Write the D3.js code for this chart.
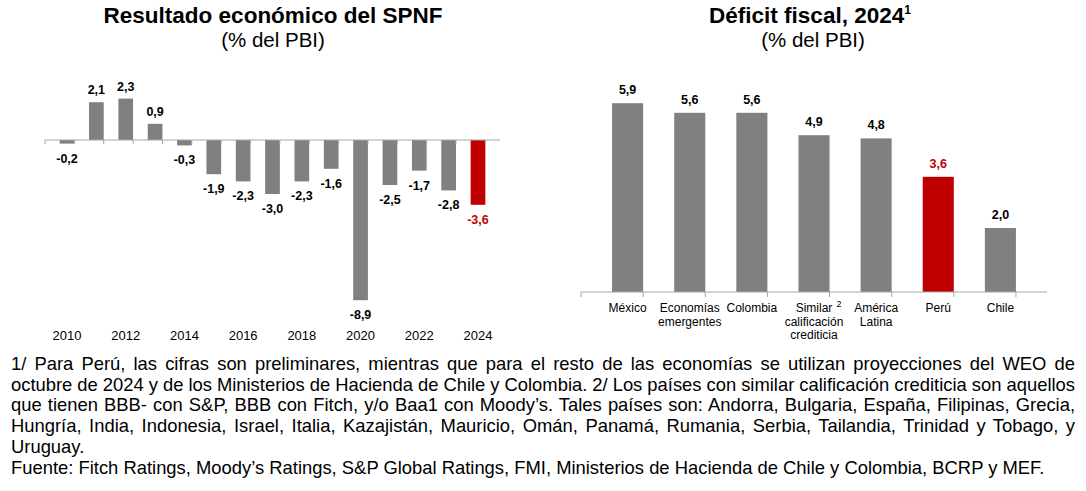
<!DOCTYPE html>
<head>
  <script src="https://d3js.org/d3.v7.min.js"></script>
  <meta charset='utf-8'>
  <title>Resultado económico y déficit fiscal</title>
  <style>
    body {
      margin: 0;
      background: white;
    }
    svg text {
      font-family: "Liberation Sans", Arial, Helvetica, sans-serif;
    }
  </style>
</head>

<body>
  <div id="chart"></div>

  <script>

// data
var years = [2010, 2011, 2012, 2013, 2014, 2015, 2016, 2017, 2018, 2019, 2020, 2021, 2022, 2023, 2024];
var spnf = [-0.2, 2.1, 2.3, 0.9, -0.3, -1.9, -2.3, -3.0, -2.3, -1.6, -8.9, -2.5, -1.7, -2.8, -3.6];

var countries = ["México", "Economías emergentes", "Colombia", "Similar calificación crediticia", "América Latina", "Perú", "Chile"];
var countryLines = [["México"], ["Economías", "emergentes"], ["Colombia"], ["Similar", "calificación", "crediticia"], ["América", "Latina"], ["Perú"], ["Chile"]];
var deficit = [5.9, 5.6, 5.6, 4.9, 4.8, 3.6, 2.0];

var notes = [
  "1/ Para Perú, las cifras son preliminares, mientras que para el resto de las economías se utilizan proyecciones del WEO de",
  "octubre de 2024 y de los Ministerios de Hacienda de Chile y Colombia. 2/ Los países con similar calificación crediticia son aquellos",
  "que tienen BBB- con S&P, BBB con Fitch, y/o Baa1 con Moody’s. Tales países son: Andorra, Bulgaria, España, Filipinas, Grecia,",
  "Hungría, India, Indonesia, Israel, Italia, Kazajistán, Mauricio, Omán, Panamá, Rumania, Serbia, Tailandia, Trinidad y Tobago, y",
  "Uruguay.",
  "Fuente: Fitch Ratings, Moody’s Ratings, S&P Global Ratings, FMI, Ministerios de Hacienda de Chile y Colombia, BCRP y MEF."
];
var justified = [true, true, true, true, false, false];

var GRAY = "#808080", RED = "#c00000", AXIS = "#a6a6a6";
var fmt = function(v) { return v.toFixed(1).replace(".", ","); };

var svg = d3.select("#chart").append("svg")
    .attr("width", 1086)
    .attr("height", 491);

// ---------- left: Resultado económico del SPNF ----------
var left = svg.append("g");

left.append("text")
  .attr("x", 273).attr("y", 23)
  .attr("text-anchor", "middle")
  .attr("font-size", 22.5).attr("font-weight", "bold")
  .text("Resultado económico del SPNF");

left.append("text")
  .attr("x", 273).attr("y", 47)
  .attr("text-anchor", "middle")
  .attr("font-size", 20.5)
  .text("(% del PBI)");

var x1 = d3.scaleBand()
  .domain(years)
  .range([45, 500])
  .padding(0.5);

var y1 = d3.scaleLinear()
  .domain([-10, 3])
  .range([320, 86]);

// bars
left.selectAll("rect.bar")
  .data(spnf)
  .join("rect")
    .attr("class", "bar")
    .attr("x", function(d, i) { return x1(years[i]); })
    .attr("width", x1.bandwidth())
    .attr("y", function(d) { return y1(Math.max(0, d)); })
    .attr("height", function(d) { return Math.abs(y1(d) - y1(0)); })
    .attr("fill", function(d, i) { return years[i] === 2024 ? RED : GRAY; });

// zero axis with ticks at category boundaries
var zeroY = y1(0);
left.append("line")
  .attr("x1", x1.range()[0]).attr("x2", x1.range()[1])
  .attr("y1", zeroY).attr("y2", zeroY)
  .attr("stroke", AXIS).attr("stroke-width", 1);

left.selectAll("line.tick")
  .data(d3.range(years.length + 1))
  .join("line")
    .attr("class", "tick")
    .attr("x1", function(i) { return x1.range()[0] + i * x1.step(); })
    .attr("x2", function(i) { return x1.range()[0] + i * x1.step(); })
    .attr("y1", zeroY).attr("y2", zeroY + 4)
    .attr("stroke", AXIS);

// value labels
left.selectAll("text.val")
  .data(spnf)
  .join("text")
    .attr("class", "val")
    .attr("x", function(d, i) { return x1(years[i]) + x1.bandwidth() / 2; })
    .attr("y", function(d) { return d >= 0 ? y1(d) - 8 : y1(d) + 19; })
    .attr("text-anchor", "middle")
    .attr("font-size", 12.5).attr("font-weight", "bold")
    .attr("fill", function(d, i) { return years[i] === 2024 ? RED : "#000"; })
    .text(fmt);

// year labels (every other year)
left.selectAll("text.year")
  .data(years.filter(function(y) { return y % 2 === 0; }))
  .join("text")
    .attr("class", "year")
    .attr("x", function(d) { return x1(d) + x1.bandwidth() / 2; })
    .attr("y", 340)
    .attr("text-anchor", "middle")
    .attr("font-size", 13)
    .text(function(d) { return d; });

// ---------- right: Déficit fiscal, 2024 ----------
var right = svg.append("g");

var t2 = right.append("text")
  .attr("x", 810).attr("y", 23)
  .attr("text-anchor", "middle")
  .attr("font-size", 22.5).attr("font-weight", "bold");
t2.append("tspan").text("Déficit fiscal, 2024");
t2.append("tspan").attr("font-size", 12).attr("dy", -9).text("1");

right.append("text")
  .attr("x", 813).attr("y", 47)
  .attr("text-anchor", "middle")
  .attr("font-size", 20.5)
  .text("(% del PBI)");

var x2 = d3.scaleBand()
  .domain(countries)
  .range([581, 1047])
  .padding(0.5);

var y2 = d3.scaleLinear()
  .domain([0, 6])
  .range([292, 100]);

right.selectAll("rect.bar")
  .data(deficit)
  .join("rect")
    .attr("class", "bar")
    .attr("x", function(d, i) { return x2(countries[i]); })
    .attr("width", x2.bandwidth())
    .attr("y", function(d) { return y2(d); })
    .attr("height", function(d) { return y2(0) - y2(d); })
    .attr("fill", function(d, i) { return countries[i] === "Perú" ? RED : GRAY; });

right.append("line")
  .attr("x1", x2.range()[0]).attr("x2", x2.range()[1])
  .attr("y1", y2(0)).attr("y2", y2(0))
  .attr("stroke", AXIS);

right.selectAll("line.tick")
  .data(d3.range(countries.length + 1))
  .join("line")
    .attr("class", "tick")
    .attr("x1", function(i) { return x2.range()[0] + i * x2.step(); })
    .attr("x2", function(i) { return x2.range()[0] + i * x2.step(); })
    .attr("y1", y2(0)).attr("y2", y2(0) + 5)
    .attr("stroke", AXIS);

right.selectAll("text.val")
  .data(deficit)
  .join("text")
    .attr("class", "val")
    .attr("x", function(d, i) { return x2(countries[i]) + x2.bandwidth() / 2; })
    .attr("y", function(d) { return y2(d) - 9; })
    .attr("text-anchor", "middle")
    .attr("font-size", 12.5).attr("font-weight", "bold")
    .attr("fill", function(d, i) { return countries[i] === "Perú" ? RED : "#000"; })
    .text(fmt);

// category labels, multi-line
right.selectAll("text.cat")
  .data(countries)
  .join("text")
    .attr("class", "cat")
    .attr("text-anchor", "middle")
    .attr("font-size", 12)
    .each(function(d, i) {
      var cx = x2(d) + x2.bandwidth() / 2;
      var el = d3.select(this);
      countryLines[i].forEach(function(line, j) {
        el.append("tspan")
          .attr("x", cx)
          .attr("y", 312 + j * 13.5)
          .text(line);
      });
    });

// superscript 2 next to "Similar"
var simX = x2("Similar calificación crediticia") + x2.bandwidth() / 2;
right.append("text")
  .attr("x", simX + 25).attr("y", 307)
  .attr("text-anchor", "middle")
  .attr("font-size", 9)
  .text("2");

// ---------- footnote ----------
var foot = svg.append("g");
var fx0 = 11, fx1 = 1075, fSize = 18.4, fLead = 20.7, fTop = 370;

notes.forEach(function(line, i) {
  var t = foot.append("text")
    .attr("x", fx0)
    .attr("y", fTop + i * fLead)
    .attr("font-size", fSize)
    .text(line);
  if (justified[i]) {
    var w = t.node().getComputedTextLength();
    var gaps = line.split(" ").length - 1;
    t.attr("word-spacing", (fx1 - fx0 - w) / gaps);
  }
});

</script>
</body>
